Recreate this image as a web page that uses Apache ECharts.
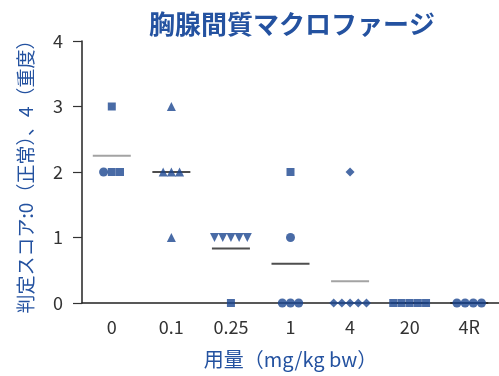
<!DOCTYPE html>
<html><head><meta charset="utf-8">
<script src="https://cdn.jsdelivr.net/npm/echarts@6/dist/echarts.min.js"></script>
<style>html,body{margin:0;padding:0;background:#fff}#c{width:499px;height:376px}</style>
</head><body><div id="c"></div>
<script>
const categories = ['0', '0.1', '0.25', '1', '4', '20', '4R'];
const scores = [
  [3, 2, 2, 2],
  [3, 2, 2, 2, 1],
  [1, 1, 1, 1, 1, 0],
  [2, 1, 0, 0, 0],
  [2, 0, 0, 0, 0, 0],
  [0, 0, 0, 0, 0],
  [0, 0, 0, 0]
];
const markers = [
  ['rect', 'circle', 'rect', 'rect'],
  ['triangle', 'triangle', 'triangle', 'triangle', 'triangle'],
  ['down', 'down', 'down', 'down', 'down', 'rect'],
  ['rect', 'circle', 'circle', 'circle', 'circle'],
  ['diamond', 'diamond', 'diamond', 'diamond', 'diamond', 'diamond'],
  ['rect', 'rect', 'rect', 'rect', 'rect'],
  ['circle', 'circle', 'circle', 'circle']
];
const meanColors = ['#8c8c8c', '#222', '#222', '#222', '#8c8c8c', '#222', '#222'];
const yTicks = [0, 1, 2, 3, 4];

const blue = '#1c4690';
const pts = [];
scores.forEach((vals, ci) => {
  const groups = {};
  vals.forEach((v, i) => { (groups[v] = groups[v] || []).push(i); });
  vals.forEach((v, i) => {
    const g = groups[v];
    const k = g.indexOf(i);
    const off = (k - (g.length - 1) / 2) * 8.2;
    const m = markers[ci][i];
    const sym = m === 'down' ? 'triangle' : m;
    const size = sym === 'rect' ? 8 : 9;
    pts.push({
      value: [ci, v],
      symbol: sym,
      symbolRotate: m === 'down' ? 180 : 0,
      symbolSize: size,
      symbolOffset: [off, 0]
    });
  });
});
const means = scores.map((vals, ci) => ({
  value: [ci, vals.reduce((a, b) => a + b, 0) / vals.length],
  itemStyle: { color: meanColors[ci] }
}));

const chart = echarts.init(document.getElementById('c'), null, { renderer: 'canvas' });
const font = '"Noto Sans CJK JP", "Noto Sans", sans-serif';
chart.setOption({
  animation: false,
  title: {
    text: '胸腺間質マクロファージ',
    left: 287, top: 6, textAlign: 'center',
    textStyle: { color: '#2452a0', fontSize: 26, fontWeight: 'bold', fontFamily: font }
  },
  grid: { left: 82, right: 0, top: 41, bottom: 73, containLabel: false, outerBoundsMode: 'none' },
  xAxis: {
    type: 'category',
    data: categories,
    boundaryGap: true,
    axisLine: { lineStyle: { color: '#222', width: 1.5 } },
    axisTick: { alignWithLabel: true, length: 8, lineStyle: { color: '#333', width: 1.2 } },
    axisLabel: { color: '#333', fontSize: 18, margin: 15, fontFamily: font },
    name: '用量（mg/kg bw）',
    nameLocation: 'middle',
    nameGap: 46,
    nameTextStyle: { color: '#2452a0', fontSize: 20, fontFamily: font },
    splitLine: { show: false }
  },
  yAxis: {
    type: 'value',
    min: yTicks[0], max: yTicks[yTicks.length - 1], interval: 1,
    axisLine: { show: true, lineStyle: { color: '#222', width: 1.5 } },
    axisTick: { show: true, length: 9, lineStyle: { color: '#333', width: 1.2 } },
    axisLabel: { color: '#333', fontSize: 18, margin: 19, fontFamily: font },
    splitLine: { show: false },
    name: '判定スコア:0（正常）、4（重度）',
    nameLocation: 'middle',
    nameGap: 47,
    nameRotate: 90,
    nameTextStyle: { color: '#2452a0', fontSize: 19, fontFamily: font }
  },
  series: [
    {
      type: 'scatter',
      data: means,
      symbol: 'rect',
      symbolSize: [38, 2],
      z: 1,
      silent: true
    },
    {
      type: 'scatter',
      data: pts,
      itemStyle: { color: blue },
      z: 3
    }
  ]
});
</script></body></html>
